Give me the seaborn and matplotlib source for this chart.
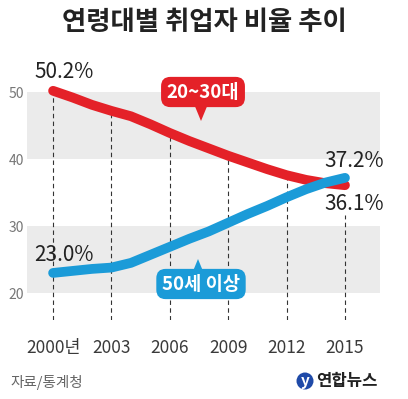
import numpy as np
import pandas as pd
import matplotlib
matplotlib.use("Agg")
import matplotlib.pyplot as plt
from matplotlib.patches import Polygon, Ellipse
import seaborn as sns

# DATA
years = list(range(2000, 2016))
young = [50.2, 49.2, 48.1, 47.2, 46.4, 45.2, 43.9, 42.7, 41.6, 40.5,
         39.5, 38.5, 37.6, 36.9, 36.4, 36.1]
older = [23.0, 23.3, 23.6, 23.8, 24.5, 25.7, 26.9, 28.1, 29.2, 30.5,
         31.8, 33.0, 34.3, 35.5, 36.5, 37.2]
tick_years = [2000, 2003, 2006, 2009, 2012, 2015]
tick_labels = ["2000년", "2003", "2006", "2009", "2012", "2015"]
y_ticks = [20, 30, 40, 50]

df = pd.DataFrame({"year": years * 2,
                   "rate": young + older,
                   "group": ["20~30대"] * len(years) + ["50세 이상"] * len(years)})

RED = "#e42128"
BLUE = "#1b9bd8"
BAND = "#ebebeb"

sns.set_style("white")
plt.rcParams["font.family"] = ["Noto Sans CJK KR", "DejaVu Sans"]

W, H = 408, 399
fig = plt.figure(figsize=(W / 100, H / 100), dpi=100)

def fx(x):
    return x / W

def fy(y):
    return 1 - y / H

ax = fig.add_axes([fx(27), fy(320), fx(380) - fx(27), fy(60) - fy(320)])
ax.set_xlim(1998.66, 2016.8)
ax.set_ylim(15.97, 54.8)

# gray bands
ax.axhspan(20, 30, color=BAND, zorder=0, lw=0)
ax.axhspan(40, 50, color=BAND, zorder=0, lw=0)

# dashed guide lines
for yr in tick_years:
    i = years.index(yr)
    top = young[i] if yr != 2015 else 31.6
    ax.vlines(yr, 15.97, top, colors="#333333", linestyles=(0, (4, 3)), lw=0.8, zorder=1)

sns.lineplot(data=df, x="year", y="rate", hue="group",
             palette={"20~30대": RED, "50세 이상": BLUE},
             lw=7, legend=False, ax=ax, zorder=3)
for line in ax.get_lines():
    line.set_solid_capstyle("round")
    line.set_solid_joinstyle("round")

for s in ax.spines.values():
    s.set_visible(False)

ax.set_xlabel("")
ax.set_ylabel("")
ax.set_xticks(tick_years)
ax.set_xticklabels(tick_labels, fontsize=12.5, color="#3a3a3a")
ax.set_yticks(y_ticks)
ax.set_yticklabels([str(v) for v in y_ticks], fontsize=10, color="#777777")
ax.tick_params(axis="x", length=0, pad=14)
ax.tick_params(axis="y", length=0, pad=2)

# value labels
ax.text(1999.05, 51.4, "50.2%", fontsize=15, color="#222222", ha="left", va="bottom")
ax.text(1999.05, 24.1, "23.0%", fontsize=15, color="#222222", ha="left", va="bottom")
ax.text(2017.0, 38.0, "37.2%", fontsize=15, color="#222222", ha="right", va="bottom")
ax.text(2017.0, 35.0, "36.1%", fontsize=15, color="#222222", ha="right", va="top")

# title
fig.text(0.5, fy(22), "연령대별 취업자 비율 추이", fontsize=19, fontweight="bold",
         color="#222222", ha="center", va="center")

# callouts
def callout(cx, cy, text, color, tip, base_y):
    fig.text(fx(cx), fy(cy), text, fontsize=13.5, fontweight="bold", color="white",
             ha="center", va="center", zorder=6,
             bbox=dict(boxstyle="round,pad=0.3,rounding_size=0.5", fc=color, ec="none"))
    tri = Polygon([(fx(tip[0] - 7), fy(base_y)), (fx(tip[0] + 7), fy(base_y)),
                   (fx(tip[0]), fy(tip[1]))],
                  closed=True, fc=color, ec="none", transform=fig.transFigure, zorder=5)
    fig.patches.append(tri)

callout(203, 92, "20~30대", RED, (201, 121), 104)
callout(201, 284, "50세 이상", BLUE, (198, 259), 276)

# source and logo
fig.text(fx(10), fy(382), "자료/통계청", fontsize=10.5, color="#666666", ha="left", va="center")
fig.patches.append(Ellipse((fx(305), fy(381)), fx(17), 17 / H, fc="#1f4aa8", ec="none",
                           transform=fig.transFigure))
fig.text(fx(305), fy(381), "y", fontsize=11, fontweight="bold", fontstyle="italic",
         color="white", ha="center", va="center")
fig.text(fx(316), fy(381), "연합뉴스", fontsize=12, fontweight="bold", color="#222222",
         ha="left", va="center")

fig.savefig("out.png", dpi=100)
